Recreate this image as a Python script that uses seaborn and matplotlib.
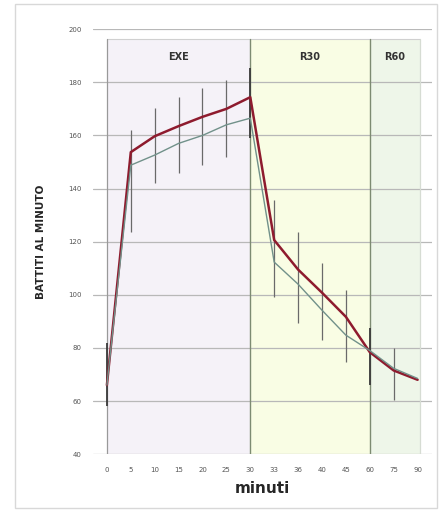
import matplotlib
matplotlib.use("Agg")
import matplotlib.pyplot as plt
import seaborn as sns
import pandas as pd
from matplotlib.patches import Rectangle

# valori
minuti = ["0", "5", "10", "15", "20", "25", "30", "33", "36", "40", "45", "60", "75", "90"]
serie_rossa = [66, 153.7, 159.7, 163.5, 167, 170, 174.4, 120.6, 109.5, 100.8, 91.7, 78.4, 71.5, 68]
serie_grigia = [66, 148.8, 152.6, 157, 160, 164, 166.5, 112.3, 104, 94.2, 84.8, 79, 72.3, 68.5]
err_basso = [58, 123.6, 142, 146, 149, 152, 159, 99, 89.3, 83, 74.6, 66, 60.3, None]
err_alto = [82, 162, 170.3, 174.4, 177.8, 180.8, 185.3, 135.5, 123.6, 112, 101.7, 87.4, 80, None]

fasi = ["EXE", "R30", "R60"]
fasi_inizio = [0, 6, 11]
fasi_fine = [6, 11, 13.1]
fasi_colori = ["#f5f2f8", "#f9fde4", "#eef6e9"]

df = pd.DataFrame({
    "pos": list(range(len(minuti))) * 2,
    "bpm": serie_rossa + serie_grigia,
    "serie": ["A"] * len(minuti) + ["B"] * len(minuti),
})

sns.set_style("white")
fig = plt.figure(figsize=(4.43, 5.12), dpi=100)
ax = fig.add_axes([0.21, 0.113, 0.765, 0.830])

# cornice esterna
fig.patches.append(Rectangle((0.034, 0.008), 0.952, 0.984, transform=fig.transFigure,
                             fill=False, edgecolor="#d8d8d8", linewidth=1))

ax.set_xlim(-0.58, 13.6)
ax.set_ylim(40, 200)

top_panel = 196.2
for nome, a, b, c in zip(fasi, fasi_inizio, fasi_fine, fasi_colori):
    ax.fill_between([a, b], 40, top_panel, color=c, zorder=0, linewidth=0)
    ax.text((a + b) / 2, 189.5, nome, ha="center", va="center", fontsize=7,
            fontweight="bold", color="#333333")
ax.plot([0, 13.1], [top_panel, top_panel], color="#d0d0d0", lw=0.8, zorder=1)

for v in range(40, 201, 20):
    ax.axhline(v, color="#b8b8b8", lw=0.9, zorder=1)

ax.axvline(0, ymax=(top_panel - 40) / 160, color="#999999", lw=0.9, zorder=1)
ax.axvline(6, ymax=(top_panel - 40) / 160, color="#7d8b72", lw=1.0, zorder=1)
ax.axvline(11, ymax=(top_panel - 40) / 160, color="#7d8b72", lw=1.0, zorder=1)
ax.axvline(13.1, ymax=(top_panel - 40) / 160, color="#d6dcd3", lw=0.9, zorder=1)

# barre di errore
for i, (lo, hi) in enumerate(zip(err_basso, err_alto)):
    if lo is None:
        continue
    scuro = i in (0, 6, 11)
    ax.vlines(i, lo, hi, color="#3a3a3a" if scuro else "#6a6a6a",
              lw=1.3 if scuro else 0.9, zorder=3)

sns.lineplot(data=df, x="pos", y="bpm", hue="serie", palette={"A": "#8e1b2e", "B": "#71918a"},
             ax=ax, legend=False, zorder=4)
ax.lines[-2].set_linewidth(1.8)
ax.lines[-1].set_linewidth(1.0)

ax.set_xticks(range(len(minuti)))
ax.set_xticklabels(minuti, fontsize=5, color="#555555")
ax.set_yticks(range(40, 201, 20))
ax.set_yticklabels([str(v) for v in range(40, 201, 20)], fontsize=5, color="#555555")
ax.tick_params(axis="x", length=2, pad=7, color="#aaaaaa")
ax.tick_params(axis="y", length=0, pad=8)
for s in ax.spines.values():
    s.set_visible(False)

ax.set_xlabel("minuti", fontsize=11, fontweight="bold", labelpad=6)
ax.set_ylabel("BATTITI AL MINUTO", fontsize=7.5, fontweight="bold", labelpad=16)

fig.savefig("out.png", dpi=100)
